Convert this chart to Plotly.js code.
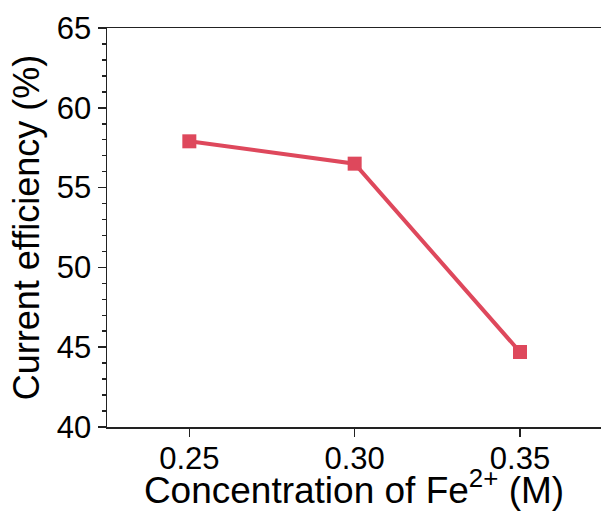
<!DOCTYPE html>
<html>
<head>
<meta charset="utf-8">
<script src="https://cdn.plot.ly/plotly-3.0.1.min.js"></script>
<style>
  html, body { margin: 0; padding: 0; background: #fff; }
  #chart { width: 601px; height: 511px; }
</style>
</head>
<body>
<div id="chart"></div>
<script>
// Fe2+ concentration (M) vs. current efficiency (%)
const concentration = [0.25, 0.30, 0.35];
const efficiency = [57.9, 56.5, 44.7];
const xTickVals = [0.25, 0.30, 0.35];
const xTickText = ['0.25', '0.30', '0.35'];
const yTickVals = [40, 45, 50, 55, 60, 65];

const lineColor = 'rgb(222,72,92)';
const axisColor = '#222';
const fontFamily = '"Liberation Sans", Arial, sans-serif';

const trace = {
  x: concentration,
  y: efficiency,
  type: 'scatter',
  mode: 'lines+markers',
  line: { color: lineColor, width: 4 },
  marker: { symbol: 'square', size: 14, color: lineColor },
  cliponaxis: false,
  hoverinfo: 'skip'
};

const layout = {
  width: 601,
  height: 511,
  margin: { l: 107, r: 0, t: 28, b: 84 },
  paper_bgcolor: '#fff',
  plot_bgcolor: '#fff',
  showlegend: false,
  font: { family: fontFamily, color: '#000' },
  xaxis: {
    range: [0.2251, 0.3745],
    tickvals: xTickVals,
    ticktext: xTickText,
    ticks: 'outside',
    ticklen: 8,
    tickwidth: 1.5,
    tickcolor: axisColor,
    ticklabelstandoff: -5,
    showline: true,
    linecolor: axisColor,
    linewidth: 1.5,
    mirror: true,
    showgrid: false,
    zeroline: false,
    tickfont: { size: 31, family: fontFamily, color: '#000' },
    title: {
      text: 'Concentration of Fe<sup>2+</sup> (M)',
      font: { size: 37, family: fontFamily, color: '#000' },
      standoff: 6
    },
    automargin: false
  },
  yaxis: {
    range: [40, 65],
    tickvals: yTickVals,
    ticks: 'outside',
    ticklen: 8,
    tickwidth: 1.5,
    tickcolor: axisColor,
    minor: { dtick: 1, ticks: 'outside', ticklen: 4, tickwidth: 1.5, tickcolor: axisColor, showgrid: false },
    showline: true,
    linecolor: axisColor,
    linewidth: 1.5,
    mirror: false,
    showgrid: false,
    zeroline: false,
    tickfont: { size: 31, family: fontFamily, color: '#000' },
    title: {
      text: 'Current efficiency (%)',
      font: { size: 36, family: fontFamily, color: '#000' },
      standoff: 6
    },
    automargin: false
  }
};

Plotly.newPlot('chart', [trace], layout, { staticPlot: true, displayModeBar: false });
</script>
</body>
</html>
